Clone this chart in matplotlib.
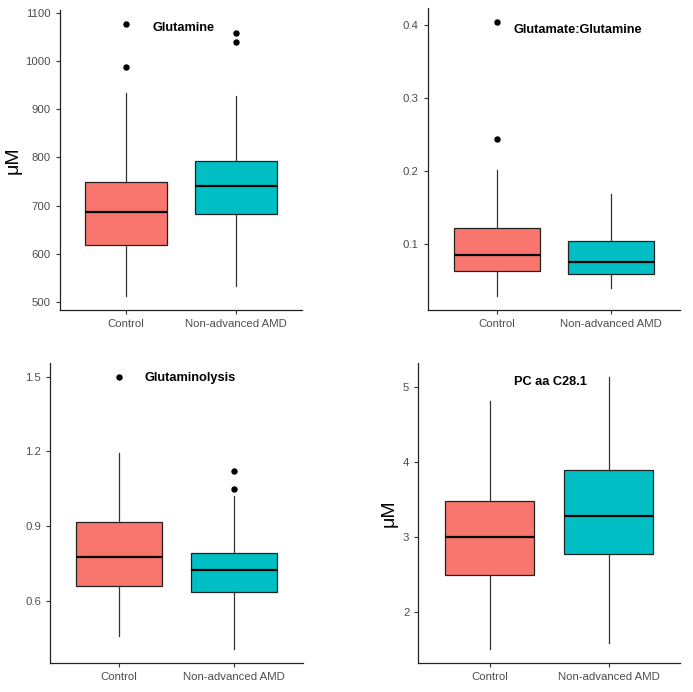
import matplotlib
matplotlib.use("Agg")
from matplotlib import pyplot as plt

plt.rcParams["font.family"] = ["Liberation Sans", "DejaVu Sans"]

groups = ["Control", "Non-advanced AMD"]
colors = ["#F8766D", "#00BFC4"]

# per group: whisker low, q1, median, q3, whisker high, outliers
glutamine = [
    (512, 618, 687, 748, 933, [988, 1077]),
    (533, 683, 740, 793, 927, [1038, 1057]),
]
glu_gln_ratio = [
    (0.028, 0.063, 0.084, 0.122, 0.202, [0.244, 0.405]),
    (0.040, 0.0585, 0.075, 0.104, 0.169, []),
]
glutaminolysis = [
    (0.459, 0.659, 0.774, 0.917, 1.192, [1.5]),
    (0.405, 0.634, 0.723, 0.793, 1.022, [1.049, 1.121]),
]
pc_aa_c28 = [
    (1.509, 2.504, 3.003, 3.476, 4.816, []),
    (1.589, 2.782, 3.281, 3.887, 5.134, []),
]

glutamine_ticks = [500, 600, 700, 800, 900, 1000, 1100]
ratio_ticks = [0.1, 0.2, 0.3, 0.4]
glutaminolysis_ticks = [0.6, 0.9, 1.2, 1.5]
pc_ticks = [2, 3, 4, 5]

W, H = 693, 692
fig = plt.figure(figsize=(W / 100, H / 100), dpi=100)


def make_axes(left, top, right, bottom):
    return fig.add_axes([left / W, 1 - bottom / H, (right - left) / W, (bottom - top) / H])


def draw(ax, data, ticks, title, title_xy, ylabel=None, ylabel_x=None):
    stats = []
    for g, d in zip(groups, data):
        stats.append(dict(whislo=d[0], q1=d[1], med=d[2], q3=d[3], whishi=d[4],
                          fliers=d[5], label=g))
    bp = ax.bxp(stats, positions=[0, 1], widths=0.75, patch_artist=True,
                showcaps=False,
                boxprops=dict(edgecolor="#222222", linewidth=0.9),
                medianprops=dict(color="black", linewidth=1.6),
                whiskerprops=dict(color="#333333", linewidth=0.9),
                flierprops=dict(marker="o", markerfacecolor="black",
                                markeredgecolor="black", markersize=3.6))
    for patch, c in zip(bp["boxes"], colors):
        patch.set_facecolor(c)
    lo = min(d[0] for d in data)
    hi = max(max([d[4]] + d[5]) for d in data)
    pad = (hi - lo) * 0.05
    ax.set_ylim(lo - pad, hi + pad)
    ax.set_xlim(-0.6, 1.6)
    ax.set_yticks(ticks)
    ax.set_xticks([0, 1])
    ax.set_xticklabels(groups)
    for s in ["top", "right"]:
        ax.spines[s].set_visible(False)
    for s in ["left", "bottom"]:
        ax.spines[s].set_color("#222222")
        ax.spines[s].set_linewidth(0.9)
    ax.tick_params(axis="both", labelsize=8.2, labelcolor="#4D4D4D",
                   color="#333333", length=3, width=0.8)
    ax.text(title_xy[0], title_xy[1], title, ha="center", va="center",
            fontsize=9.2, fontweight="bold")
    if ylabel:
        ax.set_ylabel(ylabel, fontsize=14)
        ax.yaxis.set_label_coords(ylabel_x, 0.5)


ax1 = make_axes(60, 10, 302, 310)
draw(ax1, glutamine, glutamine_ticks, "Glutamine", (0.52, 1068),
     ylabel="μM", ylabel_x=-0.16)

ax2 = make_axes(427.7, 8, 680, 310)
draw(ax2, glu_gln_ratio, ratio_ticks, "Glutamate:Glutamine", (0.71, 0.3935))

ax3 = make_axes(50, 363, 303, 663)
draw(ax3, glutaminolysis, glutaminolysis_ticks, "Glutaminolysis", (0.62, 1.496))

ax4 = make_axes(418.3, 363, 680, 663)
draw(ax4, pc_aa_c28, pc_ticks, "PC aa C28.1", (0.51, 5.057),
     ylabel="μM", ylabel_x=-0.078)

fig.savefig("out.png", dpi=100, facecolor="white")
